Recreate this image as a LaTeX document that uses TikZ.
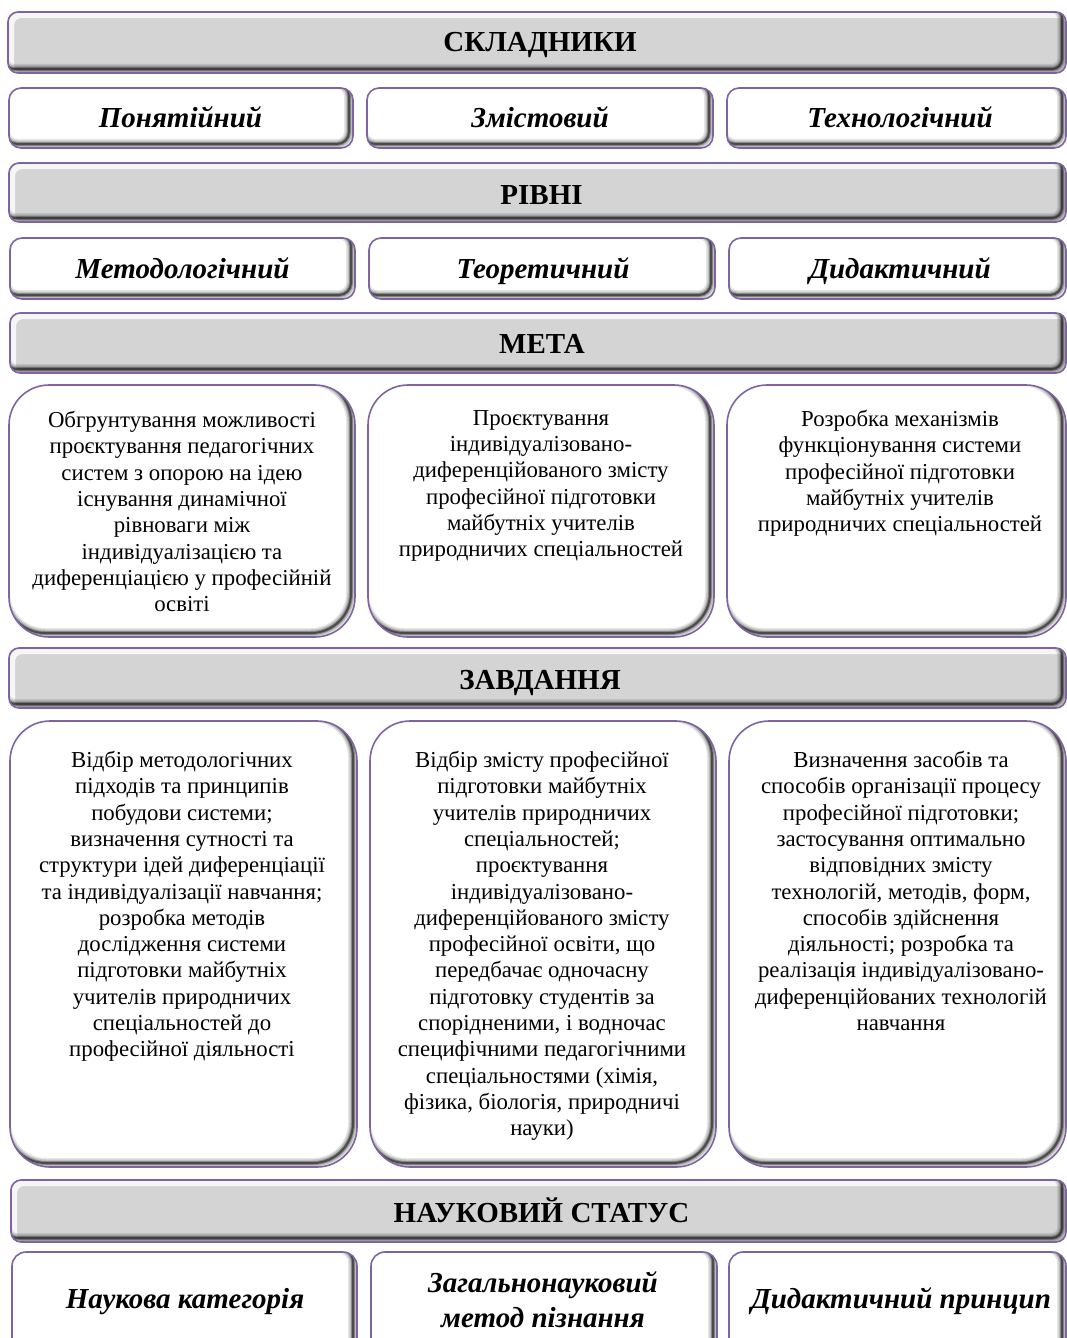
\documentclass[tikz,border=0pt]{standalone}
\usepackage{fontspec}
\setmainfont{Liberation Serif}
\definecolor{boxpurple}{HTML}{8064A2}
\definecolor{hdrgray}{HTML}{D4D4D4}
\tikzset{
  bevelbox/.style={rectangle, draw=boxpurple, line width=1.6pt, inner sep=0pt,
    rounded corners=#1, fill=white,
    path picture={
      \foreach \w/\o in {10/0.10, 7/0.16, 4/0.28, 2/0.45}{
        \draw[line width=\w pt, black, opacity=\o, rounded corners=#1]
          ([shift={(-4pt,4pt)}]path picture bounding box.south west) rectangle
          ([shift={(-4pt,4pt)}]path picture bounding box.north east);
      }
    }},
  hdrbox/.style={rectangle, draw=boxpurple, line width=1.6pt, inner sep=0pt,
    rounded corners=10pt, fill=hdrgray,
    path picture={
      \draw[line width=6pt, white, opacity=0.8, rounded corners=10pt]
          ([shift={(3pt,-3pt)}]path picture bounding box.south west) rectangle
          ([shift={(3pt,-3pt)}]path picture bounding box.north east);
      \foreach \w/\o in {10/0.10, 7/0.16, 4/0.28, 2/0.45}{
        \draw[line width=\w pt, black, opacity=\o, rounded corners=10pt]
          ([shift={(-4pt,4pt)}]path picture bounding box.south west) rectangle
          ([shift={(-4pt,4pt)}]path picture bounding box.north east);
      }
    }},
  hdrtext/.style={inner sep=0pt, anchor=base, font=\fontsize{29}{33}\selectfont\bfseries},
  titletext/.style={inner sep=0pt, anchor=base, font=\fontsize{29}{35}\selectfont\bfseries\itshape},
  bodytext/.style={inner sep=0pt, align=center, anchor=north, font=\fontsize{22.8}{26.3}\selectfont},
}
\begin{document}
\begin{tikzpicture}[x=1pt,y=-1pt]
\useasboundingbox (0,0) rectangle (1067,1338);

% headers
\node[hdrbox, minimum width=1058pt, minimum height=61pt] (h1) at (537,42.5) {};
\node[hdrtext] (h1t) at (540,52) {СКЛАДНИКИ};
\node[hdrbox, minimum width=1057pt, minimum height=59pt] (h2) at (537.5,192.5) {};
\node[hdrtext] (h2t) at (541.5,204) {РІВНІ};
\node[hdrbox, minimum width=1056pt, minimum height=60pt] (h3) at (538,343) {};
\node[hdrtext] (h3t) at (542,353) {МЕТА};
\node[hdrbox, minimum width=1057pt, minimum height=60pt] (h4) at (537.5,678) {};
\node[hdrtext] (h4t) at (540,689) {ЗАВДАННЯ};
\node[hdrbox, minimum width=1055pt, minimum height=62pt] (h5) at (538.5,1211) {};
\node[hdrtext] (h5t) at (541.5,1222) {НАУКОВИЙ СТАТУС};

% row 1
\node[bevelbox=12pt, minimum width=344pt, minimum height=60pt] (a1) at (181,118) {};
\node[bevelbox=12pt, minimum width=346pt, minimum height=60pt] (a2) at (540,118) {};
\node[bevelbox=12pt, minimum width=339pt, minimum height=60pt] (a3) at (896.5,118) {};
\node[titletext] (a1t) at (180.5,127) {Понятійний};
\node[titletext] (a2t) at (540,127) {Змістовий};
\node[titletext] (a3t) at (900,127) {Технологічний};

% row 2
\node[bevelbox=12pt, minimum width=345pt, minimum height=61pt] (b1) at (182.5,268.5) {};
\node[bevelbox=12pt, minimum width=346pt, minimum height=61pt] (b2) at (542,268.5) {};
\node[bevelbox=12pt, minimum width=337pt, minimum height=61pt] (b3) at (897.5,268.5) {};
\node[titletext] (b1t) at (182.5,278) {Методологічний};
\node[titletext] (b2t) at (543,278) {Теоретичний};
\node[titletext] (b3t) at (900,278) {Дидактичний};

% row 3
\node[bevelbox=40pt, minimum width=346pt, minimum height=252pt] (c1) at (182,511) {};
\node[bevelbox=40pt, minimum width=346pt, minimum height=252pt] (c2) at (541,511) {};
\node[bevelbox=40pt, minimum width=339pt, minimum height=252pt] (c3) at (896.5,511) {};
\node[bodytext] (c1t) at (182,411) {Обгрунтування можливості\\проєктування педагогічних\\систем з опорою на ідею\\існування динамічної\\рівноваги між\\індивідуалізацією та\\диференціацією у професійній\\освіті};
\node[bodytext] (c2t) at (541,410) {Проєктування\\індивідуалізовано-\\диференційованого змісту\\професійної підготовки\\майбутніх учителів\\природничих спеціальностей};
\node[bodytext] (c3t) at (900,410) {Розробка механізмів\\функціонування системи\\професійної підготовки\\майбутніх учителів\\природничих спеціальностей};

% row 4
\node[bevelbox=40pt, minimum width=347pt, minimum height=446pt] (d1) at (183.5,944) {};
\node[bevelbox=40pt, minimum width=346pt, minimum height=446pt] (d2) at (543,944) {};
\node[bevelbox=40pt, minimum width=337pt, minimum height=446pt] (d3) at (897.5,944) {};
\node[bodytext] (d1t) at (182,751) {Відбір методологічних\\підходів та принципів\\побудови системи;\\визначення сутності та\\структури ідей диференціації\\та індивідуалізації навчання;\\розробка методів\\дослідження системи\\підготовки майбутніх\\учителів природничих\\спеціальностей до\\професійної діяльності};
\node[bodytext] (d2t) at (542,751) {Відбір змісту професійної\\підготовки майбутніх\\учителів природничих\\спеціальностей;\\проєктування\\індивідуалізовано-\\диференційованого змісту\\професійної освіти, що\\передбачає одночасну\\підготовку студентів за\\спорідненими, і водночас\\специфічними педагогічними\\спеціальностями (хімія,\\фізика, біологія, природничі\\науки)};
\node[bodytext] (d3t) at (901,751) {Визначення засобів та\\способів організації процесу\\професійної підготовки;\\застосування оптимально\\відповідних змісту\\технологій, методів, форм,\\способів здійснення\\діяльності; розробка та\\реалізація індивідуалізовано-\\диференційованих технологій\\навчання};

% row 5
\node[bevelbox=14pt, minimum width=345pt, minimum height=128pt] (e1) at (184.5,1316) {};
\node[bevelbox=14pt, minimum width=346pt, minimum height=128pt] (e2) at (544,1316) {};
\node[bevelbox=14pt, minimum width=337pt, minimum height=128pt] (e3) at (897.5,1316) {};
\node[titletext] (e1t) at (185,1308) {Наукова категорія};
\node[titletext] (e2t) at (543,1292) {Загальнонауковий};
\node[titletext] (e2u) at (543,1327) {метод пізнання};
\node[titletext] (e3t) at (901,1308) {Дидактичний принцип};
\end{tikzpicture}
\end{document}
